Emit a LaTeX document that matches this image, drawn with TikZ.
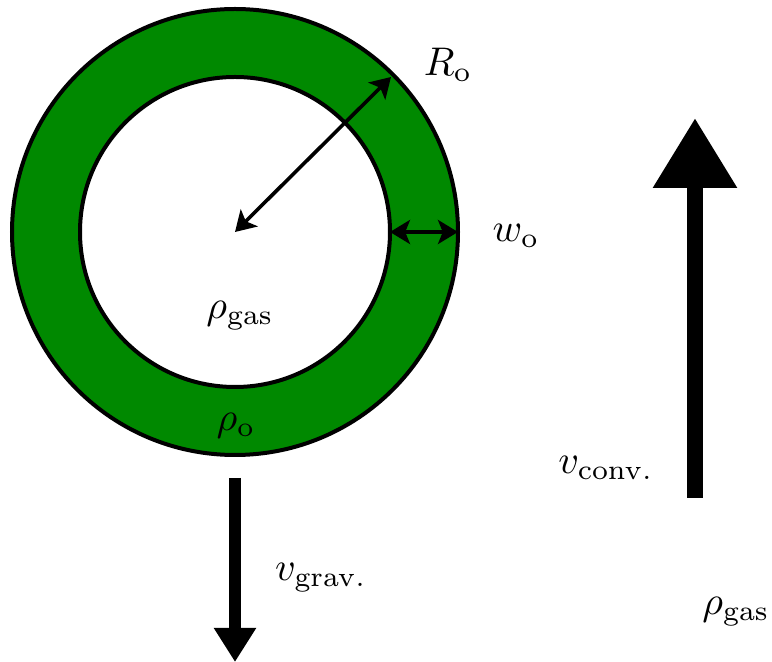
\documentclass[tikz,border=0pt]{standalone}
\usetikzlibrary{arrows.meta}
\definecolor{shellgreen}{RGB}{0,137,0}
\begin{document}
\begin{tikzpicture}[x=0.25pt,y=-0.25pt,
  lbl/.style={inner sep=0pt,font=\fontsize{10.4}{12.5}\selectfont},
  thinarrow/.style={line width=0.9pt,{Stealth[length=5pt,width=6pt,inset=1.2pt]}-{Stealth[length=5pt,width=6pt,inset=1.2pt]}},
  ring/.style={line width=1pt,draw=black}]
\useasboundingbox (0,0) rectangle (772,662);
\coordinate (c) at (235,232);
\fill[shellgreen,ring] (c) circle[radius=223];
\fill[white,ring] (c) circle[radius=155];
\coordinate (rtip) at (391,77);
\coordinate (wl) at (390,232);
\coordinate (wr) at (458,232);
\draw[thinarrow] (c) -- (rtip);
\draw[thinarrow] (wl) -- (wr);
\node[lbl] (Ro) at (448,65) {$R_{\mathrm{o}}$};
\node[lbl] (wo) at (516,236) {$w_{\mathrm{o}}$};
\node[lbl] (rgas) at (240,316) {$\rho_{\mathrm{gas}}$};
\node[lbl] (ro) at (236,426) {$\rho_{\mathrm{o}}$};
% gravity arrow
\coordinate (gs) at (235,478);
\coordinate (ge) at (235,662);
\draw[line width=3pt,-{Triangle[length=8.5pt,width=10pt]}] (gs) -- (ge);
\node[lbl] (vg) at (321,578) {$v_{\mathrm{grav.}}$};
% convection arrow
\coordinate (cs) at (695,498);
\coordinate (ce) at (695,118);
\draw[line width=4pt,-{Triangle[length=17.5pt,width=20pt]}] (cs) -- (ce);
\node[lbl] (vc) at (606,468) {$v_{\mathrm{conv.}}$};
\node[lbl] (rg2) at (736,612) {$\rho_{\mathrm{gas}}$};
\end{tikzpicture}
\end{document}
